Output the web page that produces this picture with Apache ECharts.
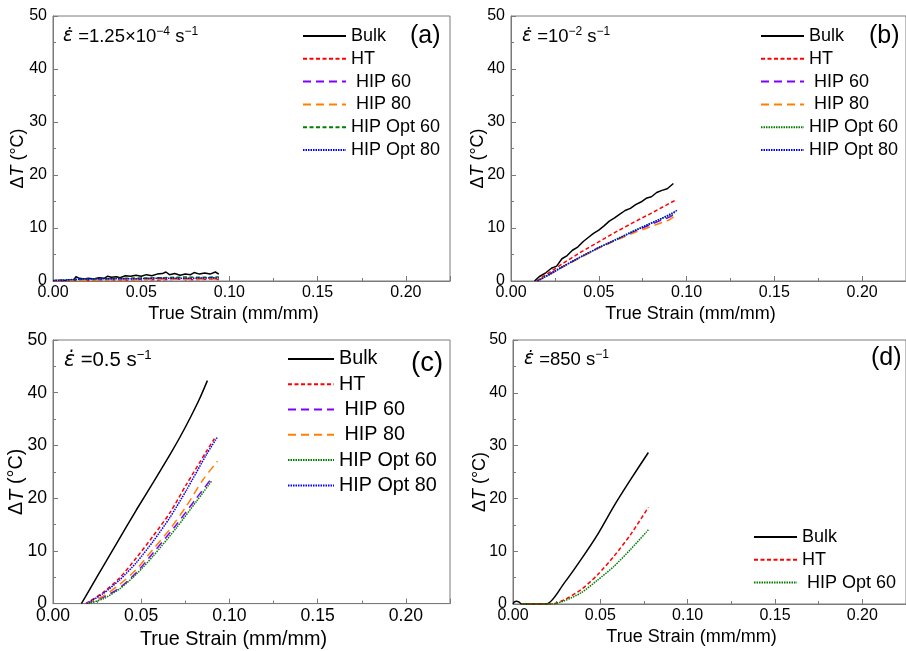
<!DOCTYPE html>
<html>
<head>
<meta charset="utf-8">
<script src="https://cdn.jsdelivr.net/npm/echarts@6/dist/echarts.min.js"></script>
<style>html,body{margin:0;padding:0;background:#fff}#c{width:906px;height:651px}</style>
</head>
<body>
<div id="c"></div>
<script>
// ---------- data (strain, deltaT) ----------
const aBulk = [[0,0.05],[0.005,0.1],[0.010,0.15],[0.012,0.3],[0.013,0.8],[0.015,0.5],[0.018,0.4],[0.020,0.5],[0.023,0.4],[0.026,0.6],[0.029,0.5],[0.031,0.9],[0.033,0.7],[0.036,0.8],[0.038,0.6],[0.041,1.0],[0.044,0.9],[0.047,1.1],[0.050,0.9],[0.053,1.2],[0.056,1.0],[0.059,1.3],[0.062,1.4],[0.064,1.7],[0.066,1.2],[0.069,1.4],[0.072,1.1],[0.075,1.3],[0.078,1.2],[0.080,1.6],[0.083,1.3],[0.086,1.5],[0.089,1.3],[0.092,1.7],[0.094,1.3]];
const aHT = [[0,0],[0.010,0.05],[0.015,0.2],[0.020,0.1],[0.030,0.25],[0.040,0.15],[0.050,0.3],[0.060,0.2],[0.070,0.35],[0.080,0.25],[0.090,0.35],[0.094,0.3]];
const aHIP60 = [[0,0.05],[0.015,0.3],[0.030,0.4],[0.045,0.35],[0.060,0.5],[0.075,0.45],[0.090,0.55],[0.094,0.5]];
const aHIP80 = [[0,0],[0.015,0.15],[0.030,0.25],[0.045,0.2],[0.060,0.35],[0.075,0.3],[0.090,0.4],[0.094,0.35]];
const aOpt60 = [[0,0.1],[0.015,0.3],[0.030,0.4],[0.045,0.55],[0.060,0.6],[0.075,0.75],[0.085,0.7],[0.094,0.75]];
const aOpt80 = [[0,0.05],[0.015,0.35],[0.030,0.45],[0.045,0.4],[0.060,0.55],[0.075,0.5],[0.090,0.6],[0.094,0.55]];

const bBulk = [[0.0134,0],[0.016,0.8],[0.020,1.6],[0.023,2.4],[0.026,2.8],[0.029,4.2],[0.032,4.8],[0.035,5.8],[0.038,6.4],[0.041,7.4],[0.044,8.2],[0.047,9.0],[0.050,9.6],[0.053,10.4],[0.056,11.3],[0.059,11.9],[0.062,12.6],[0.065,13.3],[0.068,13.7],[0.071,14.4],[0.074,14.9],[0.077,15.6],[0.080,15.9],[0.083,16.7],[0.086,17.1],[0.089,17.4],[0.0925,18.4]];
const bHT = [[0.0145,0],[0.020,1.2],[0.030,3.4],[0.040,5.5],[0.050,7.4],[0.060,9.3],[0.070,11.1],[0.080,12.8],[0.090,14.6],[0.0945,15.4]];
const bHIP60 = [[0.015,0],[0.020,0.9],[0.030,2.8],[0.040,4.6],[0.050,6.3],[0.060,7.8],[0.070,9.3],[0.080,10.7],[0.085,11.4],[0.090,12.0],[0.093,12.6]];
const bHIP80 = [[0.015,0],[0.020,0.9],[0.030,2.7],[0.040,4.5],[0.050,6.2],[0.060,7.7],[0.070,9.1],[0.080,10.3],[0.090,11.5],[0.093,12.2]];
const bOpt60 = [[0.015,0],[0.020,0.9],[0.030,2.8],[0.040,4.6],[0.050,6.3],[0.060,7.9],[0.070,9.5],[0.080,11.0],[0.090,12.3],[0.094,13.1]];
const bOpt80 = [[0.015,0],[0.020,0.9],[0.030,2.8],[0.040,4.6],[0.050,6.3],[0.060,7.8],[0.070,9.4],[0.080,10.9],[0.090,12.5],[0.095,13.4]];

const cBulk = [[0.0161,0],[0.025,5.1],[0.035,10.8],[0.0473,17.8],[0.057,23.1],[0.0662,28.2],[0.072,31.6],[0.078,35.4],[0.083,38.8],[0.0875,42.3]];
const cHT = [[0.0185,0],[0.0284,2.1],[0.0378,4.9],[0.0473,8.7],[0.0567,12.8],[0.0662,17.2],[0.0756,22.6],[0.087,28.9],[0.0915,31.3]];
const cHIP60 = [[0.019,0],[0.0284,1.2],[0.0378,3.0],[0.0473,5.9],[0.0567,9.6],[0.070,15.0],[0.0813,20.0],[0.0898,23.7]];
const cHIP80 = [[0.019,0],[0.0284,1.4],[0.0378,3.65],[0.0473,6.5],[0.0567,10.3],[0.0662,14.1],[0.0756,18.5],[0.085,23.5],[0.0932,27.0]];
const cOpt60 = [[0.020,0],[0.0284,0.9],[0.0378,2.8],[0.0473,5.6],[0.0567,9.0],[0.070,14.4],[0.0813,19.4],[0.0898,23.2]];
const cOpt80 = [[0.019,0],[0.0284,1.9],[0.0378,4.5],[0.0473,7.8],[0.0567,11.8],[0.0662,16.3],[0.0756,21.5],[0.087,28.3],[0.0932,31.6]];

const dBulk = [[0,0],[0.0008,0.4],[0.002,0.5],[0.0035,0.35],[0.005,0],[0.0191,0],[0.0294,4.0],[0.0389,8.4],[0.0483,13.1],[0.0577,18.5],[0.0672,23.5],[0.0775,28.7]];
const dHT = [[0.005,0],[0.022,0],[0.0294,0.8],[0.0389,2.7],[0.0483,5.5],[0.0577,9.0],[0.0672,13.1],[0.0775,18.3]];
const dOpt60 = [[0.005,0],[0.022,0],[0.0294,0.6],[0.0389,2.1],[0.0483,4.5],[0.0577,7.1],[0.0672,10.3],[0.0779,14.2]];

const xTicks = {min: 0, max: 0.225, interval: 0.05};
const yTicks = {min: 0, max: 50, interval: 10};
const rateLabels = [
  '{e|\u03B5\u0307}{n| =1.25×10}{s|−4}{n| s}{s|−1}',
  '{e|\u03B5\u0307}{n| =10}{s|−2}{n| s}{s|−1}',
  '{e|\u03B5\u0307}{n| =0.5 s}{s|−1}',
  '{e|\u03B5\u0307}{n| =850 s}{s|−1}'
];
const panelLetters = ['(a)', '(b)', '(c)', '(d)'];

// ---------- styles ----------
const FONT = "'Liberation Sans', Arial, sans-serif";
const AX = '#7a7a7a';
const styles = {
  'Bulk':        {color: '#000000', type: 'solid'},
  'HT':          {color: '#ff0000', type: [4, 2.5]},
  ' HIP 60':     {color: '#8000ff', type: [8, 5]},
  ' HIP 80':     {color: '#ff8000', type: [8, 5]},
  'HIP Opt 60':  {color: '#008000', type: [4, 2.5]},
  'HIP Opt 60 ': {color: '#008000', type: [1.5, 1]},
  ' HIP Opt 60': {color: '#008000', type: [1.5, 1]},
  'HIP Opt 80':  {color: '#0000ff', type: [1.5, 1]}
};

const panels = [
  {grid: {left: 53, top: 16, width: 397, height: 265}, fs: 1, yGap: 26,
   series: [['Bulk', aBulk], ['HT', aHT], [' HIP 60', aHIP60], [' HIP 80', aHIP80], ['HIP Opt 60', aOpt60], ['HIP Opt 80', aOpt80]],
   legend: {left: 302, top: 27}, title: {left: 63, top: 26}, letter: {left: 410, top: 24}, smooth: false},
  {grid: {left: 511, top: 16, width: 397, height: 265}, fs: 1, yGap: 24,
   series: [['Bulk', bBulk], ['HT', bHT], [' HIP 60', bHIP60], [' HIP 80', bHIP80], ['HIP Opt 60 ', bOpt60], ['HIP Opt 80', bOpt80]],
   legend: {left: 760, top: 27}, title: {left: 522, top: 26}, letter: {left: 869, top: 24}, smooth: false},
  {grid: {left: 53, top: 340, width: 397, height: 264}, fs: 1.1, yGap: 26,
   series: [['Bulk', cBulk], ['HT', cHT], [' HIP 60', cHIP60], [' HIP 80', cHIP80], ['HIP Opt 60 ', cOpt60], ['HIP Opt 80', cOpt80]],
   legend: {left: 287, top: 349}, title: {left: 64, top: 349}, letter: {left: 411, top: 349}, smooth: true},
  {grid: {left: 513, top: 340, width: 397, height: 264}, fs: 1, yGap: 24,
   series: [['Bulk', dBulk], ['HT', dHT], [' HIP Opt 60', dOpt60]],
   legend: {left: 753, top: 528}, title: {left: 524, top: 349}, letter: {left: 871, top: 346}, smooth: true}
];

const option = {
  animation: false,
  backgroundColor: '#fff',
  textStyle: {fontFamily: FONT},
  grid: [], xAxis: [], yAxis: [], series: [], legend: [], title: []
};

panels.forEach((p, i) => {
  const f = p.fs;
  option.grid.push(Object.assign({show: true, borderColor: AX, borderWidth: 1, backgroundColor: 'transparent'}, p.grid));
  option.xAxis.push({
    type: 'value', gridIndex: i, min: xTicks.min, max: xTicks.max, interval: xTicks.interval,
    name: 'True Strain (mm/mm)', nameLocation: 'middle', nameGap: 24 * f, nameMoveOverlap: false,
    nameTextStyle: {fontSize: 18 * f, color: '#000', fontFamily: FONT, padding: [0, 36, 0, 0]},
    axisLine: {show: true, onZero: false, lineStyle: {color: AX, width: 1}},
    axisTick: {show: true, inside: true, length: 5, lineStyle: {color: AX}},
    minorTick: {show: true, splitNumber: 2, length: 3, lineStyle: {color: AX}},
    splitLine: {show: false}, minorSplitLine: {show: false},
    axisLabel: {fontSize: 16 * f, color: '#000', margin: 4, fontFamily: FONT, showMaxLabel: false,
      formatter: v => (v > 0.21 ? '' : v.toFixed(2))}
  });
  option.yAxis.push({
    type: 'value', gridIndex: i, min: yTicks.min, max: yTicks.max, interval: yTicks.interval,
    name: '{d|Δ}{i|T}{d| (°C)}', nameLocation: 'middle', nameGap: p.yGap, nameRotate: 90, nameMoveOverlap: false,
    nameTextStyle: {fontSize: 18 * f, color: '#000', fontFamily: FONT, padding: [0, 20, 0, 0],
      rich: {d: {fontSize: 18 * f, fontFamily: FONT, color: '#000'}, i: {fontSize: 18 * f, fontStyle: 'italic', fontFamily: FONT, color: '#000'}}},
    axisLine: {show: true, lineStyle: {color: AX, width: 1}},
    axisTick: {show: true, inside: true, length: 5, lineStyle: {color: AX}},
    minorTick: {show: true, splitNumber: 2, length: 3, lineStyle: {color: AX}},
    splitLine: {show: false}, minorSplitLine: {show: false},
    axisLabel: {fontSize: 16 * f, color: '#000', margin: 6, fontFamily: FONT}
  });
  p.series.forEach(([name, data]) => {
    const st = styles[name];
    option.series.push({
      type: 'line', name: name, xAxisIndex: i, yAxisIndex: i, data: data,
      symbol: 'none', showSymbol: false, smooth: p.smooth ? 0.25 : false,
      lineStyle: {color: st.color, type: st.type, width: 1.5},
      itemStyle: {color: st.color}, clip: true, z: 3
    });
  });
  option.legend.push({
    orient: 'vertical', left: p.legend.left, top: p.legend.top, padding: 0,
    itemWidth: 43 * (f > 1 ? 1.07 : 1), itemHeight: 12, itemGap: 4.8 * f,
    data: p.series.map(s => s[0]),
    selectedMode: false,
    itemStyle: {opacity: 0, borderWidth: 0},
    textStyle: {fontSize: 18 * f, lineHeight: 18 * f, color: '#000', fontFamily: FONT}
  });
  option.title.push({
    text: rateLabels[i],
    left: p.title.left, top: p.title.top, padding: 0,
    textStyle: {fontSize: 18.5 * f, fontWeight: 'normal', color: '#000', fontFamily: FONT,
      rich: {
        e: {fontSize: 18.5 * f, fontStyle: 'italic', fontFamily: "'DejaVu Sans', sans-serif", color: '#000', lineHeight: 21 * f},
        n: {fontSize: 18.5 * f, fontFamily: FONT, color: '#000', lineHeight: 21 * f},
        s: {fontSize: 12 * f, fontFamily: FONT, color: '#000', lineHeight: 12 * f, verticalAlign: 'top'}
      }}
  });
  option.title.push({
    text: panelLetters[i], left: p.letter.left, top: p.letter.top, padding: 0,
    textStyle: {fontSize: 25 * f, fontWeight: 'normal', color: '#000', fontFamily: FONT}
  });
});

const chart = echarts.init(document.getElementById('c'), null, {renderer: 'canvas'});
chart.setOption(option);
</script>
</body>
</html>
